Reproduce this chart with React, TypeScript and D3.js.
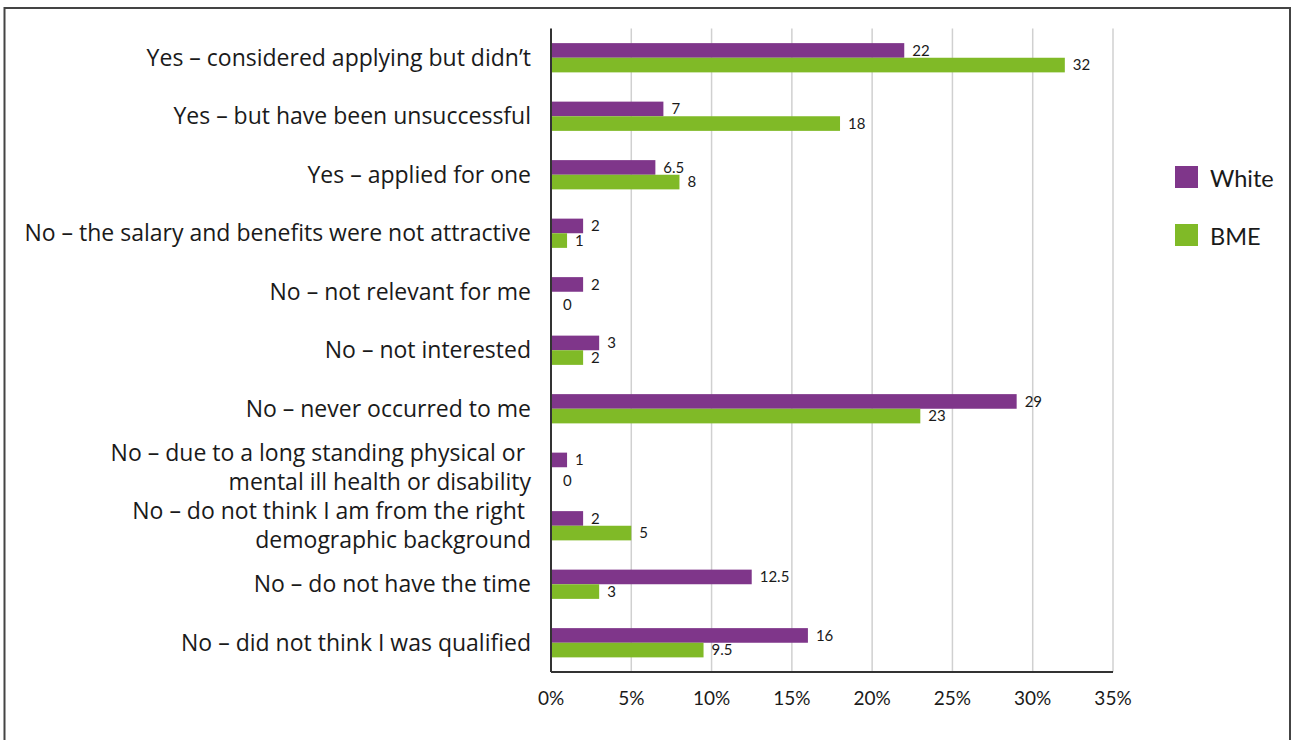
import React from "react";
import * as d3 from "d3";

const categories: string[][] = [
  ["Yes – considered applying but didn’t"],
  ["Yes – but have been unsuccessful"],
  ["Yes – applied for one"],
  ["No – the salary and benefits were not attractive"],
  ["No – not relevant for me"],
  ["No – not interested"],
  ["No – never occurred to me"],
  ["No – due to a long standing physical or\u00a0", "mental ill health or disability"],
  ["No – do not think I am from the right\u00a0", "demographic background"],
  ["No – do not have the time"],
  ["No – did not think I was qualified"],
];
const whiteValues = [22, 7, 6.5, 2, 2, 3, 29, 1, 2, 12.5, 16];
const bmeValues = [32, 18, 8, 1, 0, 2, 23, 0, 5, 3, 9.5];
const seriesNames = ["White", "BME"];
const seriesColors = ["#7f368a", "#80ba27"];
const xTicks = [0, 5, 10, 15, 20, 25, 30, 35];

const W = 1291;
const H = 740;
const FONT = "Lato, 'Open Sans', sans-serif";
const CAT_FONT = "'Open Sans', Lato, sans-serif";

export default function App() {
  const left = 551;
  const right = 1113;
  const top = 28.5;
  const bottom = 672;
  const x = d3.scaleLinear().domain([0, 35]).range([left, right]);
  const idx = categories.map((_, i) => String(i));
  const y = d3
    .scaleBand<string>()
    .domain(idx)
    .range([top, bottom])
    .paddingInner(0.5)
    .paddingOuter(0.25);
  const ySub = d3
    .scaleBand<string>()
    .domain(seriesNames)
    .range([0, y.bandwidth()]);
  const series = [whiteValues, bmeValues];

  return (
    <svg
      width={W}
      height={H}
      style={{ position: "absolute", left: 0, top: 0, background: "#fff" }}
      fontFamily={FONT}
    >
      <rect x={4.5} y={8} width={1285.5} height={800} fill="#fff" stroke="#444" strokeWidth={2} />
      {/* gridlines */}
      {xTicks.slice(1).map((t) => (
        <line key={t} x1={x(t)} x2={x(t)} y1={top} y2={bottom} stroke="#d0d0d0" strokeWidth={1.5} />
      ))}
      {/* bars */}
      {series.map((vals, s) =>
        vals.map((v, i) => {
          const by = (y(String(i)) as number) + (ySub(seriesNames[s]) as number);
          return (
            <rect
              key={`${s}-${i}`}
              x={x(0)}
              y={by}
              width={x(v) - x(0)}
              height={ySub.bandwidth()}
              fill={seriesColors[s]}
            />
          );
        })
      )}
      {/* value labels */}
      {series.map((vals, s) =>
        vals.map((v, i) => {
          const by = (y(String(i)) as number) + (ySub(seriesNames[s]) as number) + ySub.bandwidth() / 2;
          return (
            <text
              key={`l${s}-${i}`}
              x={x(v) + (v === 0 ? 12 : 8)}
              y={by + (v === 0 ? 6 : 0)}
              dy="0.35em"
              fontSize={15}
              fill="#1a1a1a"
            >
              {String(v)}
            </text>
          );
        })
      )}
      {/* axes */}
      <line x1={left} x2={left} y1={top} y2={bottom} stroke="#333" strokeWidth={2} />
      <line x1={left} x2={right} y1={bottom} y2={bottom} stroke="#333" strokeWidth={2} />
      {xTicks.map((t) => (
        <text key={`t${t}`} x={x(t)} y={698} dy="0.35em" textAnchor="middle" fontSize={19} fill="#1a1a1a">
          {t + "%"}
        </text>
      ))}
      {/* category labels */}
      {categories.map((lines, i) => {
        const cy = (y(String(i)) as number) + y.bandwidth() / 2;
        const lh = 29;
        return (
          <text
            key={`c${i}`}
            textAnchor="end"
            fontSize={23}
            fontFamily={CAT_FONT}
            fill="#1a1a1a"
            style={{ whiteSpace: "pre" }}
          >
            {lines.map((ln, k) => (
              <tspan key={k} x={531} y={cy + (k - (lines.length - 1) / 2) * lh} dy="0.35em">
                {ln}
              </tspan>
            ))}
          </text>
        );
      })}
      {/* legend */}
      {seriesNames.map((n, s) => (
        <g key={n} transform={`translate(1175, ${166 + s * 58})`}>
          <rect width={23} height={22} fill={seriesColors[s]} />
          <text x={35} y={13} dy="0.35em" fontSize={23.5} fill="#1a1a1a">
            {n}
          </text>
        </g>
      ))}
    </svg>
  );
}
